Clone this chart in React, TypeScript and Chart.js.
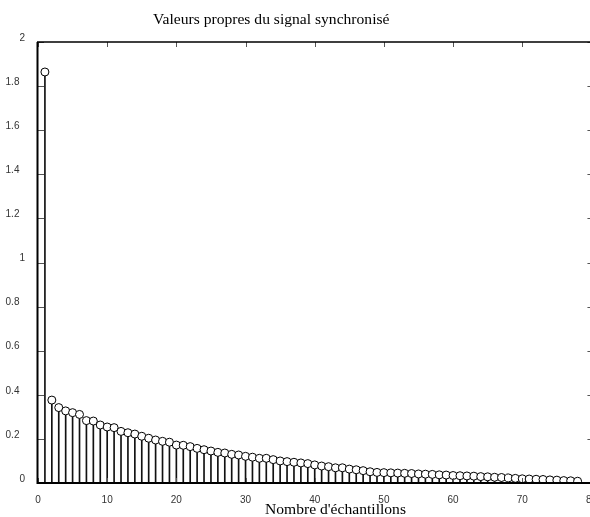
import React, { useEffect, useRef } from "react";
import { Chart, registerables } from "chart.js";

Chart.register(...registerables);

const titleText = "Valeurs propres du signal synchronisé";
const xLabelText = "Nombre d'échantillons";

const sampleIndex: number[] = [
  1, 2, 3, 4, 5, 6, 7, 8, 9, 10, 11, 12, 13, 14, 15, 16, 17, 18, 19, 20,
  21, 22, 23, 24, 25, 26, 27, 28, 29, 30, 31, 32, 33, 34, 35, 36, 37, 38, 39, 40,
  41, 42, 43, 44, 45, 46, 47, 48, 49, 50, 51, 52, 53, 54, 55, 56, 57, 58, 59, 60,
  61, 62, 63, 64, 65, 66, 67, 68, 69, 70, 71, 72, 73, 74, 75, 76, 77, 78,
];

const eigenValues: number[] = [
  1.864, 0.376, 0.342, 0.327, 0.319, 0.311, 0.283, 0.281, 0.263, 0.254,
  0.251, 0.234, 0.228, 0.222, 0.212, 0.203, 0.195, 0.189, 0.185, 0.172,
  0.171, 0.165, 0.157, 0.151, 0.145, 0.139, 0.136, 0.130, 0.127, 0.121,
  0.117, 0.112, 0.112, 0.106, 0.100, 0.097, 0.094, 0.091, 0.088, 0.082,
  0.077, 0.074, 0.069, 0.069, 0.063, 0.060, 0.056, 0.051, 0.048, 0.047,
  0.046, 0.045, 0.044, 0.043, 0.041, 0.040, 0.039, 0.037, 0.036, 0.034,
  0.033, 0.032, 0.031, 0.029, 0.028, 0.026, 0.025, 0.023, 0.021, 0.019,
  0.018, 0.017, 0.016, 0.014, 0.013, 0.011, 0.010, 0.008,
];

const xMin = 0;
const xMax = 80;
const xStep = 10;
const yMin = 0;
const yMax = 2;
const yStep = 0.2;

const framePlugin = {
  id: "frame",
  afterDraw(chart: any) {
    const { ctx, chartArea, scales } = chart;
    const { left, right, top, bottom } = chartArea;
    ctx.save();
    // tick marks (inward)
    ctx.strokeStyle = "#555";
    ctx.lineWidth = 1;
    ctx.beginPath();
    scales.x.ticks.forEach((t: any) => {
      const px = Math.round(scales.x.getPixelForValue(t.value)) + 0.5;
      ctx.moveTo(px, top);
      ctx.lineTo(px, top + 5);
      ctx.moveTo(px, bottom);
      ctx.lineTo(px, bottom - 5);
    });
    scales.y.ticks.forEach((t: any) => {
      const py = Math.round(scales.y.getPixelForValue(t.value)) + 0.5;
      ctx.moveTo(left, py);
      ctx.lineTo(left + 6, py);
      ctx.moveTo(right, py);
      ctx.lineTo(right - 4, py);
    });
    ctx.stroke();
    // frame
    ctx.strokeStyle = "#000";
    ctx.lineWidth = 2;
    ctx.beginPath();
    ctx.moveTo(left - 0.5, top);
    ctx.lineTo(left - 0.5, bottom + 1);
    ctx.moveTo(left - 1, bottom);
    ctx.lineTo(right, bottom);
    ctx.stroke();
    ctx.lineWidth = 1.5;
    ctx.beginPath();
    ctx.moveTo(left - 1, top);
    ctx.lineTo(right, top);
    ctx.moveTo(right, top);
    ctx.lineTo(right, bottom);
    ctx.stroke();
    // texts
    ctx.fillStyle = "#000";
    ctx.font = '15.6px "Liberation Serif", "Times New Roman", serif';
    ctx.textAlign = "left";
    ctx.textBaseline = "alphabetic";
    ctx.fillText(titleText, 153, 24);
    ctx.fillText(xLabelText, 265, 514);
    ctx.restore();
  },
};

export default function App() {
  const ref = useRef<HTMLCanvasElement>(null);
  useEffect(() => {
    if (!ref.current) return;
    const points = sampleIndex.map((x, i) => ({ x, y: eigenValues[i] }));
    const chart = new Chart(ref.current, {
      type: "bar",
      data: {
        datasets: [
          {
            type: "scatter",
            data: points,
            order: 0,
            showLine: false,
            pointRadius: 4,
            pointHoverRadius: 4,
            pointBorderWidth: 1,
            borderColor: "#000",
            backgroundColor: "#fff",
            pointBackgroundColor: "#fff",
            pointBorderColor: "#000",
          } as any,
          {
            type: "bar",
            data: points,
            order: 1,
            barThickness: 1,
            grouped: false,
            backgroundColor: "#111",
            borderWidth: 0,
          } as any,
        ],
      },
      plugins: [framePlugin],
      options: {
        animation: false,
        responsive: false,
        layout: { padding: { left: 0, right: 8, top: 42, bottom: 0 } },
        plugins: {
          legend: { display: false },
          tooltip: { enabled: false },
          title: { display: false },
        },
        scales: {
          x: {
            type: "linear",
            min: xMin,
            max: xMax,
            offset: false,
            grid: { display: false },
            border: { display: false },
            ticks: {
              stepSize: xStep,
              padding: 3,
              maxRotation: 0,
              autoSkip: false,
              color: "#333",
              font: { family: '"Liberation Sans", Arial, sans-serif', size: 10 },
            },
            afterFit: (s: any) => {
              s.height = 34;
            },
          },
          y: {
            type: "linear",
            min: yMin,
            max: yMax,
            grid: { display: false },
            border: { display: false },
            ticks: {
              stepSize: yStep,
              padding: 5,
              labelOffset: -4,
              color: "#333",
              font: { family: '"Liberation Sans", Arial, sans-serif', size: 10 },
              callback: (v: any) => {
                const n = Number(v);
                if (Math.abs(n - Math.round(n)) < 1e-9) return String(Math.round(n));
                return n.toFixed(1) + "  ";
              },
            },
            afterFit: (s: any) => {
              s.width = 38;
            },
          },
        },
      } as any,
    });
    return () => chart.destroy();
  }, []);
  return (
    <div
      style={{
        position: "fixed",
        left: 0,
        top: 0,
        width: 590,
        height: 517,
        overflow: "hidden",
        background: "#fff",
      }}
    >
      <canvas ref={ref} width={600} height={517} style={{ display: "block" }} />
    </div>
  );
}
